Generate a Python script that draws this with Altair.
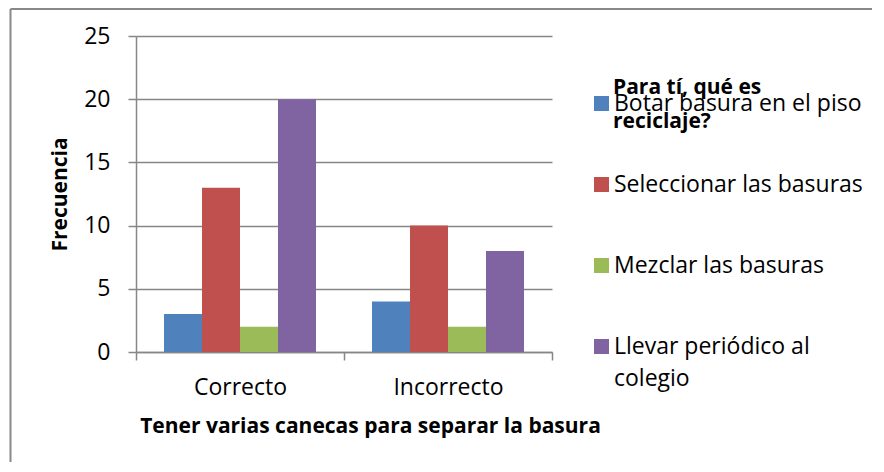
import altair as alt
import pandas as pd

categories = ["Correcto", "Incorrecto"]
series = [
    "Botar basura en el piso",
    "Seleccionar las basuras",
    "Mezclar las basuras",
    "Llevar periódico al colegio",
]
values_correcto = [3, 13, 2, 20]
values_incorrecto = [4, 10, 2, 8]
colors = ["#4F81BD", "#C0504D", "#9BBB59", "#8064A2"]
legend_title = ["Para tí, qué es", "reciclaje?"]
y_ticks = [0, 5, 10, 15, 20, 25]

rows = []
for cat, vals in zip(categories, [values_correcto, values_incorrecto]):
    for s, v in zip(series, vals):
        rows.append({"cat": cat, "serie": s, "valor": v})
df = pd.DataFrame(rows)

FONT = "Open Sans"
GRAY = "#868686"

bars = alt.Chart(df).mark_bar().encode(
    x=alt.X(
        "cat:N",
        sort=categories,
        scale=alt.Scale(paddingInner=0, paddingOuter=0),
        axis=alt.Axis(
            title="Tener varias canecas para separar la basura",
            labelAngle=0,
            tickBand="extent",
            tickSize=8,
            labelPadding=16,
            titleX=234,
            titleY=74,
            titleBaseline="middle",
            grid=False,
        ),
    ),
    xOffset=alt.XOffset(
        "serie:N", sort=series, scale=alt.Scale(paddingInner=0, paddingOuter=0.737)
    ),
    y=alt.Y(
        "valor:Q",
        scale=alt.Scale(domain=[0, 25]),
        axis=alt.Axis(
            title="Frecuencia",
            values=y_ticks,
            tickSize=8,
            labelPadding=18,
            grid=True,
            titleX=-76,
            titleY=158,
            titleBaseline="middle",
        ),
    ),
    color=alt.Color(
        "serie:N",
        sort=series,
        scale=alt.Scale(domain=series, range=colors),
        legend=alt.Legend(
            title=None,
            orient="none",
            legendX=454,
            legendY=56,
            symbolType="square",
            symbolSize=225,
            symbolStrokeWidth=0,
            labelFont=FONT,
            labelFontSize=23,
            labelColor="#000000",
            rowPadding=57,
            labelOffset=1,
            padding=0,
            labelLimit=400,
            labelExpr="datum.label == 'Llevar periódico al colegio' ? ['Llevar periódico al', 'colegio'] : datum.label",
        ),
    ),
)

title_df = pd.DataFrame({"t": ["\n".join(legend_title)]})
title_layer = alt.Chart(title_df).mark_text(
    align="left",
    baseline="alphabetic",
    font=FONT,
    fontSize=21,
    fontWeight="bold",
    lineHeight=34,
    lineBreak="\n",
    color="#000000",
).encode(text="t:N", x=alt.value(477), y=alt.value(58))

border_df = pd.DataFrame({"k": [0]})
border_top = alt.Chart(border_df).mark_rule(color="#888888", strokeWidth=2).encode(
    x=alt.value(-125.5), x2=alt.value(740), y=alt.value(-27), y2=alt.value(-27)
)
border_left = alt.Chart(border_df).mark_rule(color="#888888", strokeWidth=2).encode(
    x=alt.value(-125.5), x2=alt.value(-125.5), y=alt.value(-27), y2=alt.value(440)
)

chart = (
    alt.layer(bars, title_layer, border_top, border_left)
    .properties(
        width=416,
        height=316,
        autosize=alt.AutoSizeParams(type="none"),
        padding={"left": 128, "top": 28, "right": 320, "bottom": 110},
        background="white",
    )
    .configure(style={"guide-label": {"lineHeight": 32}})
    .configure_axis(
        domainColor=GRAY,
        domainWidth=1.5,
        tickColor=GRAY,
        tickWidth=1.5,
        gridColor=GRAY,
        gridWidth=1.5,
        labelFont=FONT,
        labelFontSize=23,
        labelColor="#000000",
        titleFont=FONT,
        titleFontSize=21,
        titleFontWeight="bold",
        titleColor="#000000",
    )
    .configure_view(strokeWidth=0)
)

chart.save("out.html", embed_options={"renderer": "svg", "actions": False})
